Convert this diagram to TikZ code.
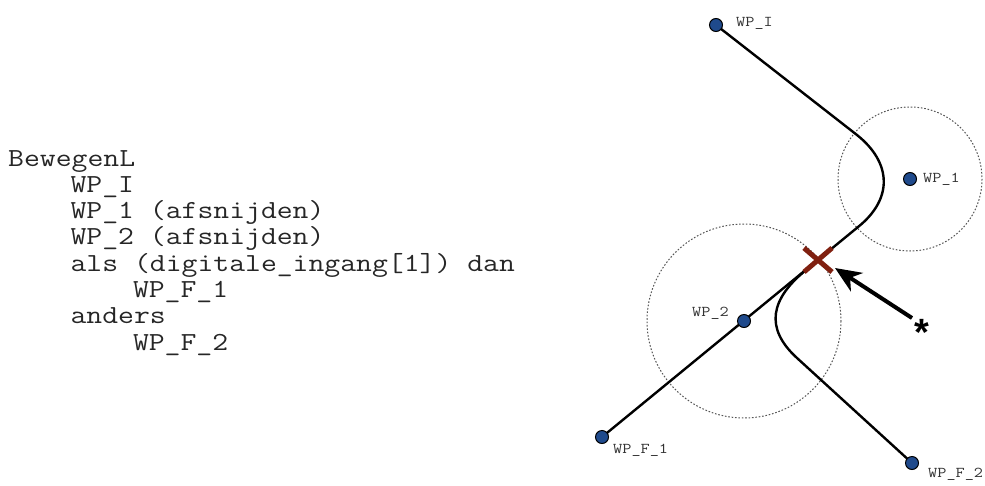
\documentclass[tikz,border=0pt]{standalone}
\usepackage{fontspec}
\newfontfamily\codefont[FakeStretch=1.185]{Latin Modern Mono}
\newfontfamily\asterfont{Liberation Sans}
\usetikzlibrary{arrows.meta}
\definecolor{dotblue}{RGB}{31,74,140}
\definecolor{crossred}{RGB}{128,32,16}
\definecolor{circgray}{RGB}{85,85,85}
\tikzset{
  codeline/.style={anchor=base west,inner sep=0pt,font=\fontsize{26}{26}\selectfont\codefont,text=black!85},
  wplabel/.style={anchor=base west,inner sep=0pt,font=\fontsize{15}{15}\selectfont\codefont,text=black!80},
  wpdot/.style={circle,draw=black,line width=1pt,fill=dotblue,minimum size=13pt,inner sep=0pt},
  tol/.style={draw=circgray,line width=1pt,dash pattern=on 1.6pt off 1.8pt},
  route/.style={draw=black,line width=2.4pt},
  crossarm/.style={draw=crossred,line width=5pt},
}
\begin{document}
\begin{tikzpicture}[x=1pt,y=-1pt]
\useasboundingbox (0,0) rectangle (985,485);
% code text
\node[codeline] (l1) at (8,166) {BewegenL};
\node[codeline] (l2) at (70.4,192.3) {WP\_I};
\node[codeline] (l3) at (70.4,218.6) {WP\_1 (afsnijden)};
\node[codeline] (l4) at (70.4,244.9) {WP\_2 (afsnijden)};
\node[codeline] (l5) at (70.4,271.2) {als (digitale\_ingang[1]) dan};
\node[codeline] (l6) at (132.8,297.5) {WP\_F\_1};
\node[codeline] (l7) at (70.4,323.8) {anders};
\node[codeline] (l8) at (132.8,350.1) {WP\_F\_2};
% tolerance circles
\draw[tol] (910,179) circle (72);
\draw[tol] (744,321) circle (97);
% waypoint coordinates
\coordinate (pi) at (716,25);
\coordinate (p1) at (910,179);
\coordinate (p2) at (744,321);
\coordinate (pf1) at (602,437);
\coordinate (pf2) at (912,463);
\coordinate (a1) at (857,135);
\coordinate (a2) at (858,227);
\coordinate (b1) at (806,270);
\coordinate (b2) at (797,358);
% routes
\draw[route] (pi) -- (a1) .. controls (892,163) and (893,199) .. (a2) -- (pf1);
\draw[route] (b1) .. controls (771,298.5) and (763.8,327.7) .. (b2) -- (pf2);
% cross
\coordinate (x1) at (804,248);
\coordinate (x2) at (832,272);
\coordinate (x3) at (804,272);
\coordinate (x4) at (832,248);
\draw[crossarm] (x1) -- (x2);
\draw[crossarm] (x3) -- (x4);
% arrow and asterisk
\coordinate (as) at (912,318);
\coordinate (at) at (835,268);
\draw[line width=4pt,-{Stealth[length=26pt,width=22pt,inset=8pt]}] (as) -- (at);
\node[anchor=base,inner sep=0pt,font=\fontsize{38}{38}\selectfont\asterfont\bfseries] (ast) at (922,345) {*};
% waypoint dots
\node[wpdot] (wpi) at (pi) {};
\node[wpdot] (wp1) at (p1) {};
\node[wpdot] (wp2) at (p2) {};
\node[wpdot] (wpf1) at (pf1) {};
\node[wpdot] (wpf2) at (pf2) {};
% labels
\node[wplabel] (lwpi) at (736,26) {WP\_I};
\node[wplabel] (lwp1) at (923,182) {WP\_1};
\node[wplabel] (lwp2) at (692,316) {WP\_2};
\node[wplabel] (lwpf1) at (613,453) {WP\_F\_1};
\node[wplabel] (lwpf2) at (928,477) {WP\_F\_2};
\end{tikzpicture}
\end{document}
